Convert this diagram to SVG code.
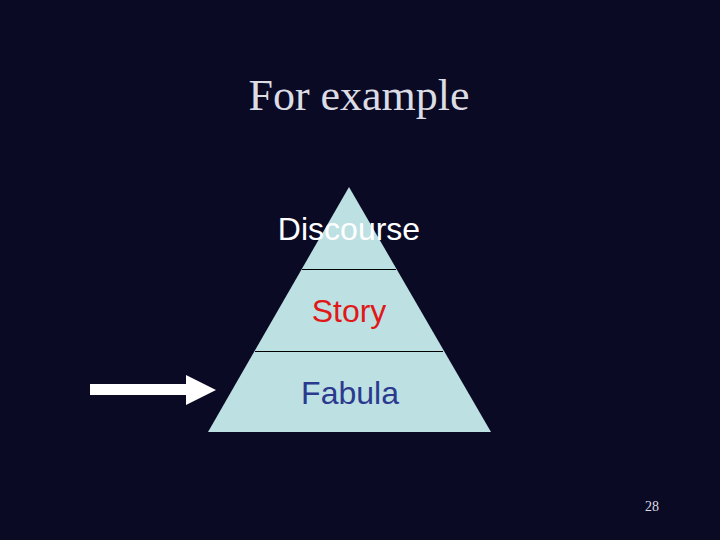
<svg xmlns="http://www.w3.org/2000/svg" width="720" height="540" viewBox="0 0 720 540">
<style>
.lbl{font-family:"Liberation Sans",Arial,sans-serif;font-size:32px;text-anchor:middle}
.sep{stroke:#000;stroke-width:1}
</style>
<rect width="720" height="540" fill="#0b0a24"/>
<text x="359" y="110" font-family="Liberation Serif,Times New Roman,serif" font-size="44" fill="#dcdce4" text-anchor="middle">For example</text>
<g id="pyramid">
<polygon points="349,187 491,432 208,432" fill="#bde0e2"/>
</g>
<g id="connectors">
<line class="sep" x1="302" y1="269.5" x2="396" y2="269.5"/>
<line class="sep" x1="255" y1="351.5" x2="443" y2="351.5"/>
<polygon points="90,384 186,384 186,375 216,390 186,405 186,395 90,395" fill="#ffffff"/>
</g>
<g id="discourse"><text class="lbl" x="349" y="240" fill="#ffffff">Discourse</text></g>
<g id="story"><text class="lbl" x="349" y="322" fill="#e01818">Story</text></g>
<g id="fabula"><text class="lbl" x="350" y="404" fill="#2b3a8f">Fabula</text></g>
<text x="652" y="511" font-family="Liberation Serif,Times New Roman,serif" font-size="14" fill="#dcdce4" text-anchor="middle">28</text>
</svg>
